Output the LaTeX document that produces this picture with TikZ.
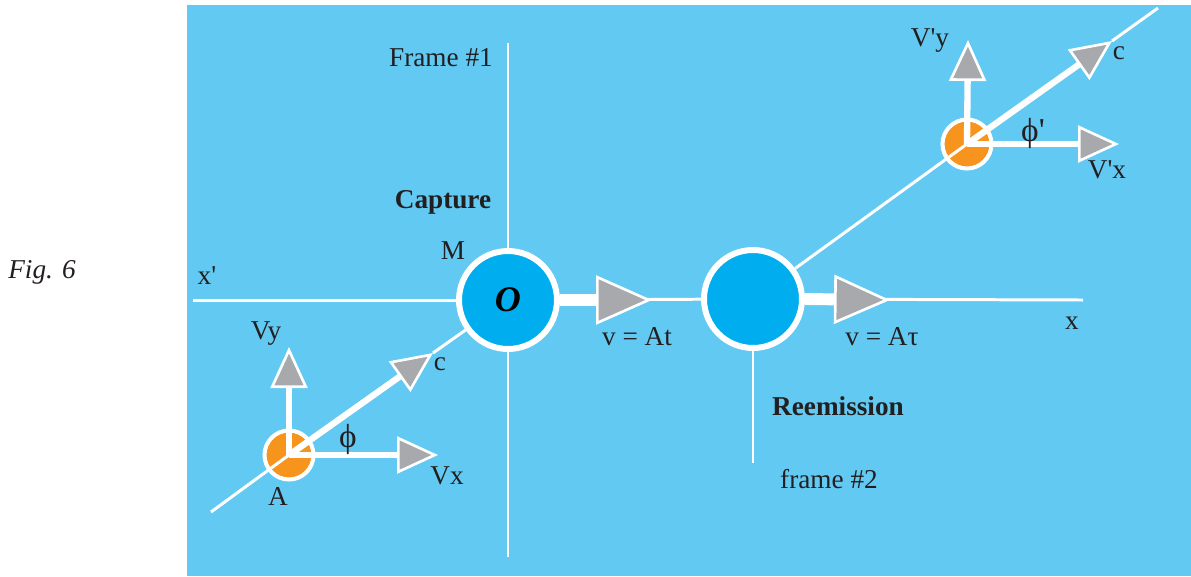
\documentclass[tikz,border=0pt]{standalone}
\usepackage{fontspec}
\setmainfont{Liberation Serif}
\usepackage{tikz}
\usetikzlibrary{arrows.meta}
\definecolor{skyBack}{RGB}{98,201,242}
\definecolor{nucleusBlue}{RGB}{0,174,239}
\definecolor{photonOrange}{RGB}{247,148,29}
\definecolor{tipGray}{RGB}{167,169,172}
\definecolor{inkBlack}{RGB}{35,31,32}

\begin{document}
\begin{tikzpicture}[x=0.02cm, y=-0.02cm,
           nucleus/.style={circle, draw=white, line width=3.4pt, fill=nucleusBlue,
              minimum size=1.96cm, inner sep=0pt},
           particle/.style={circle, draw=white, line width=2.3pt, fill=photonOrange,
              minimum size=0.98cm, inner sep=0pt},
           axis/.style={draw=white, line width=1.7pt},
           bigVector/.style={draw=white, line width=6.8pt,
              -{Triangle[length=1.12cm, width=0.98cm, fill=tipGray, line width=1.5pt]}},
           smallVector/.style={draw=white, line width=3.6pt,
              -{Triangle[length=0.82cm, width=0.74cm, fill=tipGray, line width=1.5pt]}},
           label/.style={text=inkBlack, font=\fontsize{15.5}{18}\selectfont, anchor=base, inner sep=0pt},
        ]

        \fill[white] (0,0) rectangle (1191,576);
        \fill[skyBack] (187,5) rectangle (1191,576);

        \node at (508,300) (capNucleus) [nucleus] {\fontsize{20.5}{22}\selectfont\bfseries\itshape O};
        \node at (753,299) (emNucleus) [nucleus] {};
        \node at (289,455) (photonA) [particle] {};
        \node at (967,144) (photonB) [particle] {};

        \coordinate (frameOneTop) at (508,43);
        \coordinate (frameOneBottom) at (508,557);
        \coordinate (xPrimeEnd) at (193,300);
        \coordinate (xEnd) at (1083,300);
        \coordinate (frameTwoBottom) at (753,463);
        \coordinate (pathStart) at (211,512);
        \coordinate (pathEnd) at (1158,8);
        \coordinate (tipAt) at (652,300);
        \coordinate (tipAtau) at (890,300);
        \coordinate (tipVy) at (289,347);
        \coordinate (tipVx) at (438,455);
        \coordinate (tipC) at (433,353);
        \coordinate (tipVyB) at (968,40);
        \coordinate (tipVxB) at (1119,144);
        \coordinate (tipCB) at (1112,41);

        \draw[axis] (frameOneTop) -- (capNucleus);
        \draw[axis] (capNucleus) -- (frameOneBottom);
        \draw[axis] (xPrimeEnd) -- (capNucleus);
        \draw[axis] (capNucleus) -- (emNucleus);
        \draw[axis] (emNucleus) -- (xEnd);
        \draw[axis] (emNucleus) -- (frameTwoBottom);
        \draw[axis] (pathStart) -- (photonA.center);
        \draw[axis] (tipC) -- (capNucleus);
        \draw[axis] (emNucleus) -- (photonB.center);
        \draw[axis] (tipCB) -- (pathEnd);

        \draw[bigVector] (capNucleus.east) -- (tipAt);
        \draw[bigVector] (emNucleus.east) -- (tipAtau);
        \draw[smallVector] (photonA.center) -- (tipVy);
        \draw[smallVector] (photonA.center) -- (tipVx);
        \draw[smallVector] (photonA.center) -- (tipC);
        \draw[smallVector] (photonB.center) -- (tipVyB);
        \draw[smallVector] (photonB.center) -- (tipVxB);
        \draw[smallVector] (photonB.center) -- (tipCB);

        \node at (42,278) (figLabel) [label] {\itshape Fig. 6};
        \node at (441,66) (frameOne) [label] {Frame \#1};
        \node at (443,208) (capture) [label] {\bfseries Capture};
        \node at (453,259) (mLabel) [label] {M};
        \node at (207,284) (xPrime) [label] {x\textquotesingle};
        \node at (637,345) (speedAt) [label] {v = At};
        \node at (882,345) (speedAtau) [label] {v = Aτ};
        \node at (1072,329) (xLabel) [label] {x};
        \node at (838,415) (reemission) [label] {\bfseries Reemission};
        \node at (829,488) (frameTwo) [label] {frame \#2};
        \node at (266,339) (vyLabel) [label] {Vy};
        \node at (440,370) (cLabel) [label] {c};
        \node at (348,447) (phiLabel) [label] {\fontsize{19}{20}\selectfont ϕ};
        \node at (278,505) (aLabel) [label] {A};
        \node at (447,484) (vxLabel) [label] {Vx};
        \node at (930,46) (vyBLabel) [label] {V\textquotesingle y};
        \node at (1119,59) (cBLabel) [label] {c};
        \node at (1033,141) (phiBLabel) [label] {\fontsize{19}{20}\selectfont ϕ\textquotesingle};
        \node at (1107,178) (vxBLabel) [label] {V\textquotesingle x};
     \end{tikzpicture}
\end{document}
